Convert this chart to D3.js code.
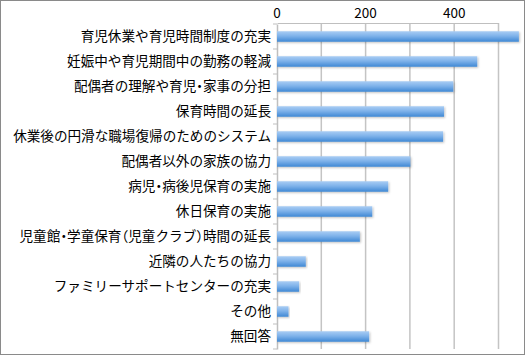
<!DOCTYPE html>
<html><head><meta charset="utf-8">
<script src="https://cdn.jsdelivr.net/npm/d3@7"></script>
<style>
html,body{margin:0;padding:0;background:#fff;}
svg{display:block;}
text{font-family:"Noto Sans CJK JP","Noto Sans",sans-serif;fill:#000;}
.lbl{font-feature-settings:"halt";}
</style></head>
<body>
<svg id="c" width="525" height="357"></svg>
<script>
const categories = [
  "育児休業や育児時間制度の充実",
  "妊娠中や育児期間中の勤務の軽減",
  "配偶者の理解や育児・家事の分担",
  "保育時間の延長",
  "休業後の円滑な職場復帰のためのシステム",
  "配偶者以外の家族の協力",
  "病児・病後児保育の実施",
  "休日保育の実施",
  "児童館・学童保育（児童クラブ）時間の延長",
  "近隣の人たちの協力",
  "ファミリーサポートセンターの充実",
  "その他",
  "無回答"
];
const values = [546, 452, 398, 377, 375, 301, 251, 215, 187, 65, 50, 26, 208];
const gridTicks = [0, 100, 200, 300, 400, 500];
const labelTicks = [0, 200, 400];

const svg = d3.select("#c");
const W = 525, H = 357;
const x0 = 277, y0 = 24, y1 = 349;

const x = d3.scaleLinear().domain([0, 500]).range([x0, x0 + 221.5]);
const y = d3.scaleBand().domain(categories).range([y0, y1]).paddingInner(0.58).paddingOuter(0.29);

const defs = svg.append("defs");
const g = defs.append("linearGradient").attr("id","bg").attr("x1",0).attr("y1",0).attr("x2",0).attr("y2",1);
g.append("stop").attr("offset","0%").attr("stop-color","#a9cdf4");
g.append("stop").attr("offset","45%").attr("stop-color","#7fb2ea");
g.append("stop").attr("offset","100%").attr("stop-color","#3f88d4");
const f = defs.append("filter").attr("id","sh").attr("x","-5%").attr("y","-30%").attr("width","110%").attr("height","180%");
f.append("feDropShadow").attr("dx",1).attr("dy",1).attr("stdDeviation",0.8).attr("flood-color","#000").attr("flood-opacity",0.25);

// border
svg.append("rect").attr("x",0.5).attr("y",0.5).attr("width",W-1).attr("height",H-3)
  .attr("fill","#fff").attr("stroke","#8a8a8a").attr("stroke-width",1);

// gridlines
svg.append("g").selectAll("line").data(gridTicks.slice(1)).join("line")
  .attr("x1",d=>x(d)).attr("x2",d=>x(d)).attr("y1",y0-1).attr("y2",y1)
  .attr("stroke","#c4c4c4").attr("stroke-width",1.5);

// top axis
const ax = svg.append("g").attr("transform",`translate(0,${y0-1})`)
  .call(d3.axisTop(x).tickValues(gridTicks).tickSize(0).tickFormat(""));
ax.select(".domain").attr("stroke","#bfbfbf").attr("stroke-width",1);
svg.append("g").selectAll("text").data(labelTicks).join("text")
  .attr("x",d=>x(d)).attr("y",18).attr("text-anchor","middle")
  .style("font-size","13.5px").text(d=>d);

// left axis
const ay = svg.append("g").attr("transform",`translate(${x0},0)`)
  .call(d3.axisLeft(y).tickSize(0).tickFormat(""));
ay.select(".domain").attr("stroke","#bfbfbf").attr("stroke-width",1.5);
const bounds = d3.range(categories.length + 1).map(i => y0 + i * (y1 - y0) / categories.length);
svg.append("g").selectAll("line").data(bounds).join("line")
  .attr("x1",x0-4).attr("x2",x0).attr("y1",d=>d).attr("y2",d=>d)
  .attr("stroke","#bfbfbf").attr("stroke-width",1);

// bars
svg.append("g").selectAll("rect").data(values).join("rect")
  .attr("x",x(0)).attr("y",(d,i)=>y(categories[i]))
  .attr("width",d=>x(d)-x(0)).attr("height",y.bandwidth())
  .attr("fill","url(#bg)").attr("filter","url(#sh)");

// labels
svg.append("g").selectAll("text").data(categories).join("text")
  .attr("class","lbl")
  .attr("x",271).attr("y",d=>y(d)+y.bandwidth()/2).attr("dy","0.36em")
  .attr("text-anchor","end").style("font-size","13.6px").text(d=>d);
</script>
</body></html>
